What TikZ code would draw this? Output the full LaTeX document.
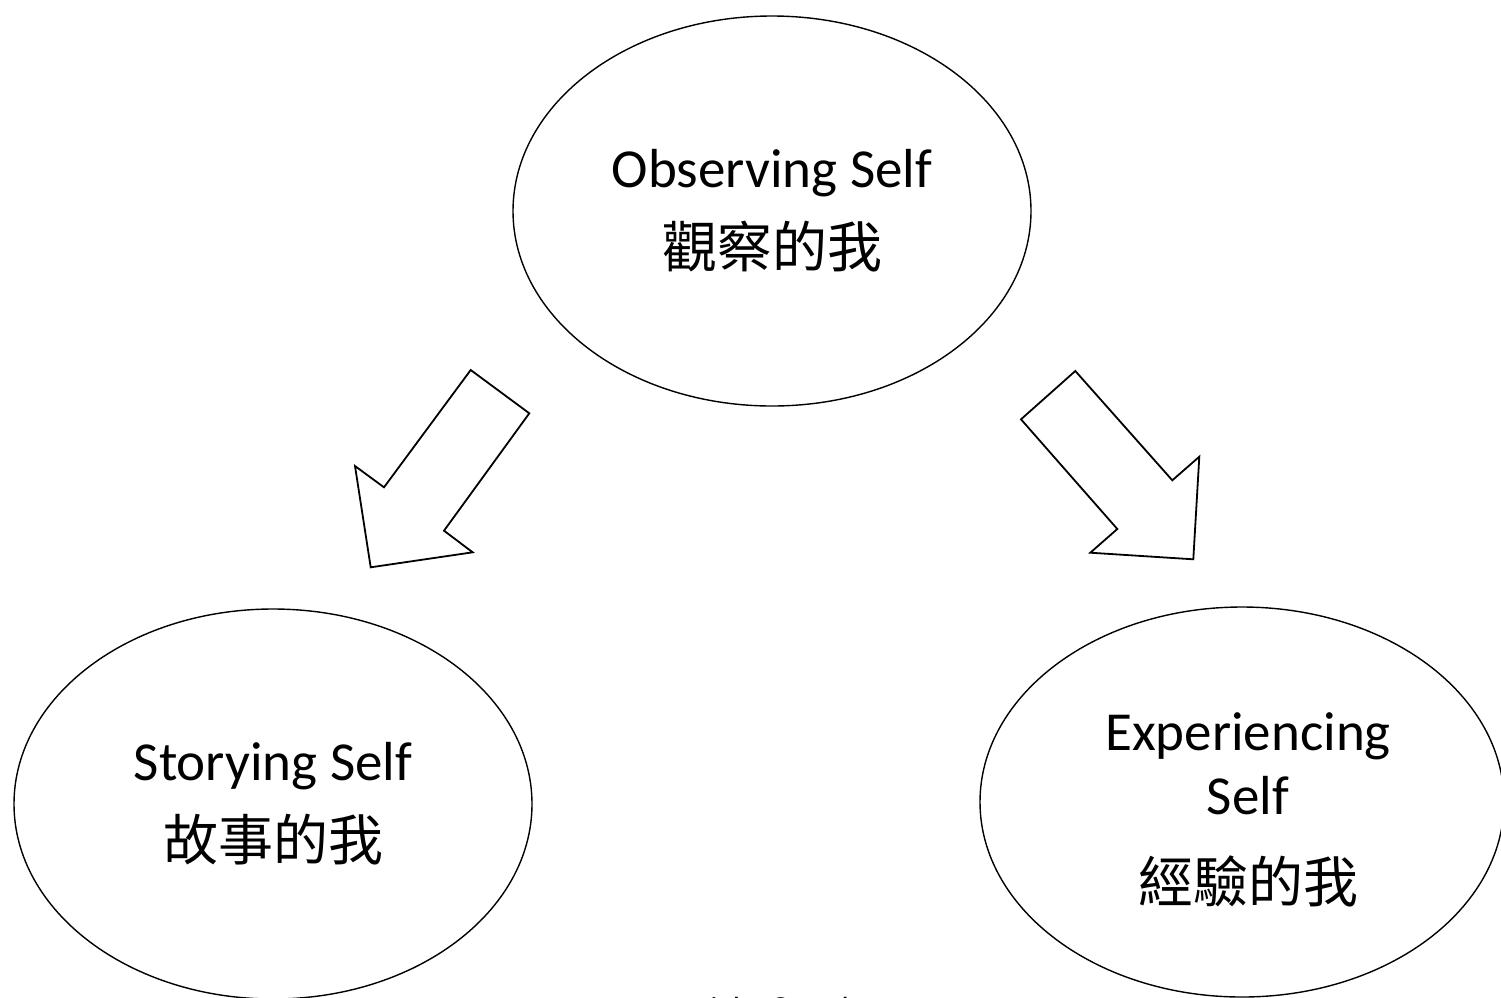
\documentclass[tikz,border=0pt]{standalone}
\usepackage{fontspec}
\setmainfont{Carlito}
\newfontfamily\cjk{Noto Sans CJK TC}
\usetikzlibrary{shapes.geometric}
\begin{document}
\begin{tikzpicture}[x=1pt,y=-1pt,
  selfnode/.style={draw, ellipse, line width=1.4pt, inner sep=0pt, align=center,
    font=\fontsize{55}{80}\selectfont},
  selftext/.style={inner sep=0pt, align=center, font=\fontsize{55}{80}\selectfont},
  blockarrow/.style={draw, line width=1.8pt, line join=miter, fill=white},
  note/.style={font=\fontsize{32}{40}\selectfont, inner sep=0pt}]
\useasboundingbox (0,0) rectangle (1501,997);
\begin{scope}
\clip (0,0) rectangle (1501,997);
\node[selfnode, minimum width=518pt, minimum height=390pt] (obs) at (772,211)
  {Observing Self\\{\cjk 觀察的我}};
\node[selfnode, minimum width=518pt, minimum height=390pt] (story) at (273,804)
  {Storying Self\\{\cjk 故事的我}};
\node[selfnode, minimum width=524pt, minimum height=390pt] (exp) at (1242,802) {};
\node[selftext] (exptext) at ([xshift=6pt,yshift=-8pt]exp.center)
  {Experiencing\\[-16pt]Self\\[8pt]{\cjk 經驗的我}};
\node[note, anchor=base west] (copy) at (634,1019) {Copyright © Arthur T};
\end{scope}
% left block arrow
\draw[blockarrow] (470.7,370) -- (529.3,413.3) -- (444,530.7) -- (472.7,552.3)
  -- (370.7,567.3) -- (355,466) -- (384,487.3) -- cycle;
% right block arrow
\draw[blockarrow] (1075.3,371) -- (1172.3,480.3) -- (1199.3,456.7) -- (1193.3,559.3)
  -- (1090.3,552.7) -- (1117.3,529) -- (1021,419.3) -- cycle;
\end{tikzpicture}
\end{document}
